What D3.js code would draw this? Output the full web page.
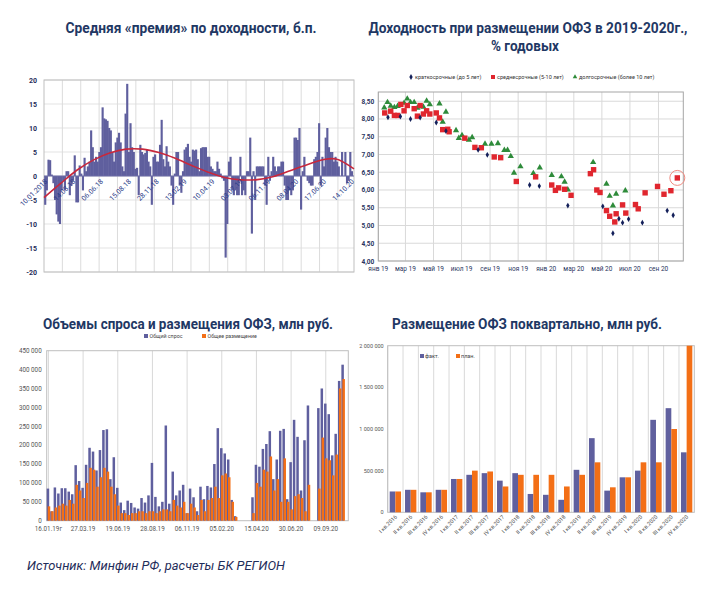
<!DOCTYPE html>
<html><head><meta charset="utf-8">
<script src="https://cdn.jsdelivr.net/npm/d3@7"></script>
<style>body{margin:0;background:#fff}svg{display:block}</style>
</head><body>
<svg id="c" width="710" height="589"></svg>
<script>
// ---------- Panel 1: average yield premium, b.p. ----------
const premium = [-6,-3,3.4,3.3,0.3,-1.5,-5,-8,-9.5,-10,
-3,-1,-3,1,1,-4,-2,-1,4.3,-5.5,
-5.5,2.2,0.5,-3,3.8,1,2,3,9.5,6,
3,4,3,5,6,14.3,12,11.8,11.5,10,
9.5,5,3,7,8,9,7,2,1,13,
19.2,5,11,6,5,1.5,1.7,-4,6.5,5,
4.5,4.8,5.5,3,2,-6,4,4.5,3,3,
6.5,11.7,3.5,2,6.2,3,2,-2,-6,0.5,
5,5,-2,-3.5,1,5.5,6,6.7,4,3,
5.5,5.3,5.5,3.5,1,5.8,6,6,6,4,
4,2,1.5,1,1,3,1.5,0.5,-0.5,-1,
-17,-10,3,4,-3,-4,-3,-4,-4,4,
-4,-3,-4,1,1,8,-12,1,-5,2,
2,2,2,2,-2,-6,4,-1,1,4,
2,1,2,2,3,3,-2,-5,-5,-3,
-4,-3,8,8,7.5,10,-7,1,4,0,
-1,-1.5,-2,-2,3.5,4,5,11,-2,4,
2,8,10,6,5,5,3,4,3,2,
0,5,0,5,-1.5,-1,5,1,0];
const premiumTrendIdx = [0,10,20,30,40,50,60,70,80,90,100,110,120,130,140,150,160,170,178,189];
const premiumTrendVal = [-4.5,-1.6,1.2,3.3,4.8,5.6,5.6,4.9,3.7,2.2,0.8,-0.3,-0.8,-0.75,-0.1,1.1,2.3,3.4,3.55,1.5];
const premiumTicks = [-20,-15,-10,-5,0,5,10,15,20];
const premiumLabels = ["10.01.2018","14.03.18","06.06.18","15.08.18","28.11.18","13.02.19","10.04.19","03.07.19","06.11.19","08.04.20","17.06.20","14.10.20"];

// ---------- Panel 2: OFZ placement yields 2019-2020 ----------
const shortDates = ["2019-01-22","2019-02-18","2019-03-12","2019-04-02","2019-05-07","2019-05-28","2019-08-06","2019-08-26","2019-11-26","2019-12-17","2020-02-17","2020-05-03","2020-05-25","2020-06-07","2020-06-15","2020-06-28","2020-07-28","2020-09-20","2020-10-03"];
const shortYields = [8.05,8.07,8.00,8.04,7.90,7.66,7.13,6.99,6.14,6.11,5.56,5.54,4.78,5.19,5.08,5.18,5.08,5.42,5.29];
const midDates = ["2019-01-15","2019-01-28","2019-02-05","2019-02-12","2019-02-19","2019-02-26","2019-03-05","2019-03-20","2019-03-27","2019-04-02","2019-04-09","2019-04-16","2019-04-23","2019-05-07","2019-05-14","2019-05-21","2019-06-01","2019-06-04","2019-07-08","2019-07-30","2019-08-13","2019-09-10","2019-09-24","2019-10-28","2019-12-09","2020-01-13","2020-01-21","2020-01-28","2020-02-10","2020-02-24","2020-04-06","2020-04-13","2020-04-20","2020-04-27","2020-05-11","2020-05-18","2020-05-29","2020-06-01","2020-06-15","2020-06-22","2020-07-13","2020-07-19","2020-08-03","2020-08-30","2020-09-13","2020-09-28","2020-10-12"];
const midYields = [8.17,8.22,8.10,8.10,8.41,8.23,8.38,8.29,8.08,8.38,8.14,8.23,8.14,8.17,8.03,7.70,7.71,7.64,7.46,7.20,7.19,6.93,6.91,6.24,6.37,6.14,5.99,6.06,6.02,5.85,6.46,6.57,6.00,5.93,5.42,5.26,5.10,5.33,5.58,5.35,5.59,5.47,5.92,6.10,5.88,5.98,6.34];
const longDates = ["2019-01-14","2019-01-21","2019-01-28","2019-02-05","2019-02-12","2019-02-26","2019-03-05","2019-03-12","2019-03-20","2019-03-27","2019-04-09","2019-04-16","2019-04-23","2019-05-14","2019-05-21","2019-05-28","2019-06-19","2019-06-25","2019-07-02","2019-07-17","2019-07-24","2019-08-21","2019-09-04","2019-09-18","2019-10-02","2019-10-09","2019-10-16","2019-10-23","2019-11-06","2019-12-04","2019-12-18","2020-01-13","2020-02-03","2020-02-10","2020-02-17","2020-04-12","2020-05-11","2020-05-18","2020-05-25","2020-06-01","2020-06-21"];
const longYields = [8.32,8.47,8.37,8.33,8.36,8.45,8.57,8.47,8.47,8.31,8.34,8.51,8.41,8.43,7.92,8.20,7.68,7.46,7.54,7.41,7.48,7.30,7.30,7.31,7.12,7.12,6.95,6.48,6.66,6.47,6.63,6.42,6.38,6.23,6.01,6.78,6.17,5.83,5.56,5.89,5.98];
const yieldTicks = [4,4.5,5,5.5,6,6.5,7,7.5,8,8.5];
const monthLabels = ["янв 19","мар 19","май 19","июл 19","сен 19","ноя 19","янв 20","мар 20","май 20","июл 20","сен 20"];
const yieldLegend = ["краткосрочные (до 5 лет)","среднесрочные (5-10 лет)","долгосрочные (более 10 лет)"];

// ---------- Panel 3: demand and placement volumes, mln rub ----------
const demand = [85,25,88,72,86,86,77,70,147,105,87,148,193,183,133,187,240,242,110,168,87,48,28,53,47,35,32,60,48,67,153,63,38,50,252,45,130,67,80,95,20,85,62,25,90,57,92,88,150,245,192,178,162,55,12,0,0,0,0,62,148,143,190,203,237,110,162,238,243,57,155,267,222,80,213,305,0,0,298,350,310,282,173,230,370,413,0].map(v=>v*1000);
const placement = [38,25,35,40,45,40,55,45,95,80,60,100,140,135,90,115,140,130,90,70,40,20,20,15,20,20,25,25,20,25,25,20,25,30,30,25,55,40,35,50,20,45,35,15,55,25,55,60,90,60,120,125,115,50,10,0,0,0,0,20,100,90,135,130,170,80,110,50,165,50,30,65,70,60,25,95,0,0,85,220,165,160,120,175,350,375,0].map(v=>v*1000);
const volumeLabels = ["16.01.19г","27.03.19","19.06.19","28.08.19","06.11.19","05.02.20","15.04.20","30.06.20","09.09.20"];
const volumeTicks = [0,50000,100000,150000,200000,250000,300000,350000,400000,450000];
const volumeLegend = ["Общий спрос","Общее размещение"];

// ---------- Panel 4: quarterly placement, mln rub ----------
const quarters = ["I кв.2016","II кв.2016","III кв.2016","IV кв.2016","I кв.2017","II кв.2017","III кв.2017","IV кв.2017","I кв.2018","II кв.2018","III кв.2018","IV кв.2018","I кв.2019","II кв.2019","III кв.2019","IV кв.2019","I кв.2020","II кв.2020","III кв.2020","IV кв.2020"];
const qFact = [250000,270000,240000,270000,400000,450000,470000,380000,470000,220000,210000,150000,510000,890000,260000,420000,500000,1110000,1250000,720000];
const qPlan = [250000,270000,240000,270000,400000,500000,490000,310000,450000,450000,450000,310000,450000,600000,300000,420000,600000,600000,1000000,2000000];
const qTicks = [0,500000,1000000,1500000,2000000];
const qLegend = ["факт.","план."];

// ---------- styles ----------
const NAVY = "#1f3864", BAR = "#5f5f9e", ORANGE = "#f36f16", GRID = "#d9d9d9", FRAME = "#bfbfbf";
const FONT = "Roboto, 'Noto Sans', sans-serif";
const ru = d3.formatLocale({decimal:",", thousands:" ", grouping:[3], currency:["",""]});
const fmtSpace = ru.format(",");
const fmt2 = ru.format(".2f");

const svg = d3.select("#c").style("font-family", FONT);
svg.append("rect").attr("width",710).attr("height",589).attr("fill","#fff");

function title(x, y, txt, w) {
  svg.append("text").attr("x",x).attr("y",y).attr("text-anchor","middle")
    .attr("font-size",14).attr("font-weight","bold").attr("fill",NAVY)
    .attr("textLength",w).attr("lengthAdjust","spacingAndGlyphs").text(txt);
}
title(191, 33, "Средняя «премия» по доходности, б.п.", 251);
title(528, 33, "Доходность при размещении ОФЗ в 2019-2020г.,", 319);
title(525, 51, "% годовых", 68);
title(188, 329, "Объемы спроса и размещения ОФЗ, млн руб.", 290);
title(527, 329, "Размещение ОФЗ поквартально, млн руб.", 270);

svg.append("text").attr("x",27).attr("y",570).attr("font-size",12.5).attr("font-style","italic")
  .attr("fill","#1f2d5a").attr("textLength",258).attr("lengthAdjust","spacingAndGlyphs")
  .text("Источник:  Минфин РФ, расчеты БК РЕГИОН");

// ===== Panel 1 =====
{
  const P = {l:44, r:354, t:80, b:272};
  const g = svg.append("g");
  const N = premium.length;
  const y = d3.scaleLinear().domain([-20,20]).range([P.b,P.t]);
  const x = d3.scaleBand().domain(d3.range(N)).range([P.l,P.r]).paddingInner(0);
  const xl = d3.scaleLinear().domain([0,N]).range([P.l,P.r]);
  g.selectAll(".hg").data(premiumTicks).join("line")
    .attr("x1",P.l).attr("x2",P.r).attr("y1",d=>y(d)).attr("y2",d=>y(d)).attr("stroke","#e3e3e3");
  g.selectAll(".vg").data(d3.range(11.2, N, 11.2)).join("line")
    .attr("x1",d=>xl(d)).attr("x2",d=>xl(d)).attr("y1",P.t).attr("y2",P.b).attr("stroke","#dcdcdc");
  g.append("rect").attr("x",P.l).attr("y",P.t).attr("width",P.r-P.l).attr("height",P.b-P.t)
    .attr("fill","none").attr("stroke",FRAME);
  g.selectAll(".bar").data(premium).join("rect")
    .attr("x",(d,i)=>x(i)+0.15).attr("width",x.bandwidth()+0.5)
    .attr("y",d=>y(Math.max(0,d))).attr("height",d=>Math.abs(y(d)-y(0)))
    .attr("fill",BAR);
  g.append("line").attr("x1",P.l).attr("x2",P.r).attr("y1",y(0)).attr("y2",y(0)).attr("stroke","#6c6ca6").attr("stroke-width",1);
  const trend = premiumTrendIdx.map((d,i)=>[d, premiumTrendVal[i]]);
  g.append("path").datum(trend)
    .attr("d", d3.line().x(d=>xl(d[0])).y(d=>y(d[1])).curve(d3.curveCatmullRom))
    .attr("fill","none").attr("stroke","#c8283c").attr("stroke-width",1.6);
  g.selectAll(".yl").data(premiumTicks).join("text")
    .attr("x",P.l-7).attr("y",d=>y(d)+2.5).attr("text-anchor","end")
    .attr("font-size",7).attr("font-weight","bold").attr("fill","#1f2d5a").text(d=>d);
  g.selectAll(".xl").data(premiumLabels).join("text")
    .attr("transform",(d,i)=>`translate(${x(i*17)+x.bandwidth()/2+3},${y(0)+6}) rotate(-45)`)
    .attr("text-anchor","end").attr("font-size",7).attr("fill","#2c3c88").text(d=>d);
}

// ===== Panel 2 =====
{
  const P = {l:378.3, r:683.3, t:92, b:261};
  const g = svg.append("g");
  const parse = d3.timeParse("%Y-%m-%d");
  const x = d3.scaleTime().domain([parse("2019-01-01"), parse("2020-10-25")]).range([P.l,P.r]);
  const y = d3.scaleLinear().domain([4,8.76]).range([P.b,P.t]);
  const months = d3.timeMonth.every(2).range(parse("2019-01-01"), parse("2020-10-25"));
  g.selectAll(".hg").data(yieldTicks).join("line")
    .attr("x1",P.l).attr("x2",P.r).attr("y1",d=>y(d)).attr("y2",d=>y(d)).attr("stroke",GRID);
  g.selectAll(".vg").data(months).join("line")
    .attr("x1",d=>x(d)).attr("x2",d=>x(d)).attr("y1",P.t).attr("y2",P.b).attr("stroke",GRID);
  g.append("rect").attr("x",P.l).attr("y",P.t).attr("width",P.r-P.l).attr("height",P.b-P.t)
    .attr("fill","none").attr("stroke","#a6a6a6");
  g.selectAll(".yl").data(yieldTicks).join("text")
    .attr("x",P.l-4).attr("y",d=>y(d)+2.5).attr("text-anchor","end")
    .attr("font-size",6.5).attr("font-weight","bold").attr("fill","#2a3560").text(d=>fmt2(d));
  g.selectAll(".xl").data(months).join("text")
    .attr("x",d=>x(d)).attr("y",P.b+10).attr("text-anchor","middle")
    .attr("font-size",6.5).attr("fill","#2a3560").text((d,i)=>monthLabels[i]);
  const sData = shortDates.map((d,i)=>[parse(d), shortYields[i]]);
  const mData = midDates.map((d,i)=>[parse(d), midYields[i]]);
  const lData = longDates.map((d,i)=>[parse(d), longYields[i]]);
  const tri = d3.symbol().type(d3.symbolTriangle).size(17);
  const dia = d3.symbol().type(d3.symbolDiamond).size(10);
  g.selectAll(".lp").data(lData).join("path").attr("d",tri)
    .attr("transform",d=>`translate(${x(d[0])},${y(d[1])})`).attr("fill","#2e8b3a");
  g.selectAll(".mp").data(mData).join("rect")
    .attr("x",d=>x(d[0])-2.7).attr("y",d=>y(d[1])-2.7).attr("width",5.4).attr("height",5.4).attr("fill","#e0262e");
  g.selectAll(".sp").data(sData).join("path").attr("d",dia)
    .attr("transform",d=>`translate(${x(d[0])},${y(d[1])})`).attr("fill","#14205a");
  const last = mData[mData.length-1];
  g.append("circle").attr("cx",x(last[0])).attr("cy",y(last[1])).attr("r",7.5)
    .attr("fill","none").attr("stroke","#f08a80").attr("stroke-width",1);
  // legend
  const lx = [411, 493, 575];
  const lg = g.selectAll(".lg").data(yieldLegend).join("g").attr("transform",(d,i)=>`translate(${lx[i]},77)`);
  lg.each(function(d,i){
    const s = d3.select(this);
    if (i===0) s.append("path").attr("d",dia).attr("fill","#14205a");
    if (i===1) s.append("rect").attr("x",-2).attr("y",-2).attr("width",4).attr("height",4).attr("fill","#e0262e");
    if (i===2) s.append("path").attr("d",d3.symbol().type(d3.symbolTriangle).size(9)).attr("fill","#2e8b3a");
    s.append("text").attr("x",4).attr("y",2).attr("font-size",5.5).attr("fill","#333").text(d);
  });
}

// ===== Panel 3 =====
{
  const P = {l:46.7, r:348.3, t:350.7, b:520.7};
  const g = svg.append("g");
  const N = demand.length;
  const x = d3.scaleBand().domain(d3.range(N)).range([P.l,P.r]);
  const y = d3.scaleLinear().domain([0,450000]).range([P.b,P.t]);
  const st = x.step();
  const labIdx = volumeLabels.map((d,i)=>i*10);
  g.selectAll(".vg").data(labIdx).join("line")
    .attr("x1",d=>x(d)+st/2).attr("x2",d=>x(d)+st/2).attr("y1",P.t).attr("y2",P.b).attr("stroke",GRID);
  g.append("rect").attr("x",P.l).attr("y",P.t).attr("width",P.r-P.l).attr("height",P.b-P.t)
    .attr("fill","none").attr("stroke",FRAME);
  g.selectAll(".db").data(demand).join("rect")
    .attr("x",(d,i)=>x(i)).attr("width",st*0.72)
    .attr("y",d=>y(d)).attr("height",d=>P.b-y(d)).attr("fill",BAR);
  g.selectAll(".pb").data(placement).join("rect")
    .attr("x",(d,i)=>x(i)+st*0.3).attr("width",st*0.72)
    .attr("y",d=>y(d)).attr("height",d=>P.b-y(d)).attr("fill",ORANGE);
  g.selectAll(".yl").data(volumeTicks).join("text")
    .attr("x",P.l-5).attr("y",d=>y(d)+2.3).attr("text-anchor","end")
    .attr("font-size",6.3).attr("fill","#555").text(d=>fmtSpace(d));
  g.selectAll(".xl").data(volumeLabels).join("text")
    .attr("x",(d,i)=>x(labIdx[i])+st/2).attr("y",P.b+10).attr("text-anchor","middle")
    .attr("font-size",6.3).attr("fill","#555").text(d=>d);
  const lx = [146, 204];
  const cols = [BAR, ORANGE];
  const lg = g.selectAll(".lg").data(volumeLegend).join("g").attr("transform",(d,i)=>`translate(${lx[i]},336)`);
  lg.append("rect").attr("x",-2).attr("y",-2).attr("width",4).attr("height",4).attr("fill",(d,i)=>cols[i]);
  lg.append("text").attr("x",3.5).attr("y",2).attr("font-size",5.3).attr("fill","#444").text(d=>d);
}

// ===== Panel 4 =====
{
  const P = {l:387.7, r:694.3, t:345.7, b:512.3};
  const g = svg.append("g");
  const x = d3.scaleBand().domain(quarters).range([P.l,P.r]);
  const y = d3.scaleLinear().domain([0,2000000]).range([P.b,P.t]);
  const st = x.step(), bw = st*0.37;
  g.selectAll(".vg").data(quarters).join("line")
    .attr("x1",d=>x(d)).attr("x2",d=>x(d)).attr("y1",P.t).attr("y2",P.b).attr("stroke",GRID);
  g.append("rect").attr("x",P.l).attr("y",P.t).attr("width",P.r-P.l).attr("height",P.b-P.t)
    .attr("fill","none").attr("stroke",FRAME);
  g.selectAll(".fb").data(qFact).join("rect")
    .attr("x",(d,i)=>x(quarters[i])+st/2-bw).attr("width",bw)
    .attr("y",d=>y(d)).attr("height",d=>P.b-y(d)).attr("fill",BAR);
  g.selectAll(".pb").data(qPlan).join("rect")
    .attr("x",(d,i)=>x(quarters[i])+st/2).attr("width",bw)
    .attr("y",d=>y(d)).attr("height",d=>P.b-y(d)).attr("fill",ORANGE);
  g.selectAll(".yl").data(qTicks).join("text")
    .attr("x",P.l-4).attr("y",d=>y(d)+2).attr("text-anchor","end")
    .attr("font-size",5.5).attr("fill","#555").text(d=>fmtSpace(d));
  g.selectAll(".xl").data(quarters).join("text")
    .attr("transform",d=>`translate(${x(d)+st/2+2},${P.b+5}) rotate(-45)`)
    .attr("text-anchor","end").attr("font-size",5.5).attr("fill","#555").text(d=>d);
  const lx = [422, 458];
  const cols = [BAR, ORANGE];
  const lg = g.selectAll(".lg").data(qLegend).join("g").attr("transform",(d,i)=>`translate(${lx[i]},356)`);
  lg.append("rect").attr("x",-2).attr("y",-2).attr("width",4).attr("height",4).attr("fill",(d,i)=>cols[i]);
  lg.append("text").attr("x",3).attr("y",2).attr("font-size",5.5).attr("fill","#444").text(d=>d);
}
</script>
</body></html>
